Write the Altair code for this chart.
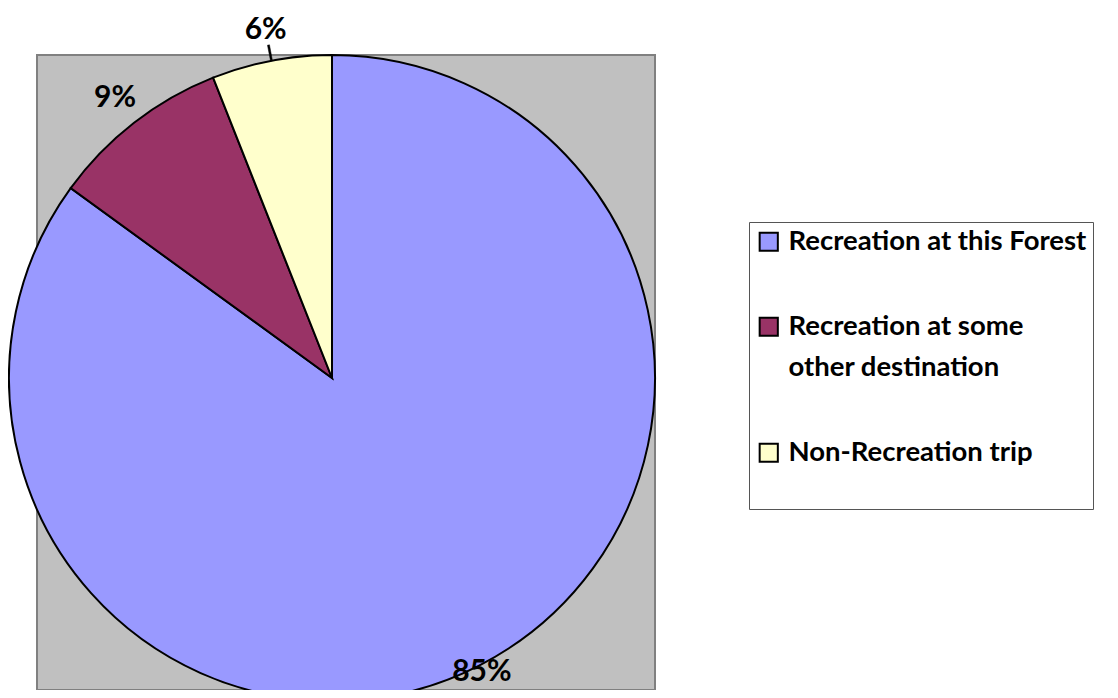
import altair as alt
import pandas as pd

categories = ["Recreation at this Forest", "Recreation at some other destination", "Non-Recreation trip"]
values = [85, 9, 6]
labels = ["85%", "9%", "6%"]
colors = ["#9999FF", "#993366", "#FFFFCC"]
order = [0, 1, 2]

df = pd.DataFrame({"category": categories, "value": values, "label": labels, "order": order})

FONT = "Lato"
CX, CY, R = 295, 323, 323

color_scale = alt.Scale(domain=categories, range=colors)

pie = alt.Chart(df).mark_arc(stroke="black", strokeWidth=2, radius=R, x=CX, y=CY).encode(
    theta=alt.Theta("value:Q", stack=True),
    order=alt.Order("order:Q"),
    color=alt.Color(
        "category:N",
        scale=color_scale,
        legend=alt.Legend(
            title=" ",
            titleOrient="bottom",
            titleFontSize=10,
            titlePadding=27,
            orient="none",
            legendX=712,
            legendY=167,
            symbolType="square",
            symbolSize=330,
            symbolStrokeColor="black",
            symbolStrokeWidth=2,
            labelFont=FONT,
            labelFontSize=27.5,
            labelFontWeight="bold",
            labelColor="black",
            labelLimit=600,
            labelOffset=6,
            labelExpr="datum.label == 'Recreation at some other destination' ? ['Recreation at some', 'other destination'] : datum.label",
            rowPadding=56,
            fillColor="white",
            strokeColor="#555555",
            padding=6,
        ),
    ),
)

mids = (
    alt.Chart(df)
    .transform_window(cum="sum(value)", sort=[alt.SortField("order")], frame=[None, 0])
    .transform_joinaggregate(total="sum(value)")
    .transform_calculate(mid="2*PI*(datum.cum - datum.value/2)/datum.total")
    .transform_calculate(t1="datum.mid - 0.003", t2="datum.mid + 0.003")
)

big_label = mids.transform_filter(alt.datum.value > 50).mark_text(
    radius=330, x=CX, y=CY, font=FONT, fontSize=30, fontWeight="bold", color="black"
).encode(theta=alt.Theta("mid:Q", scale=None, stack=False), text="label:N")

small_labels = mids.transform_filter(alt.datum.value < 50).mark_text(
    radius=354, x=CX, y=CY, font=FONT, fontSize=30, fontWeight="bold", color="black"
).encode(theta=alt.Theta("mid:Q", scale=None, stack=False), text="label:N")

leader = mids.transform_filter(alt.datum.value < 8).mark_arc(
    radius=339, radius2=R, x=CX, y=CY, color="black", stroke="black", strokeWidth=0.5
).encode(theta=alt.Theta("t1:Q", scale=None, stack=False), theta2="t2:Q")

chart = (
    alt.layer(pie, leader, big_label, small_labels)
    .properties(
        width=618,
        height=635,
        autosize=alt.AutoSizeParams(type="none"),
        padding={"left": 29, "top": 47, "right": 455, "bottom": 0},
        view=alt.ViewBackground(fill="#C0C0C0", stroke="#808080", strokeWidth=2),
    )
    .configure(style={"guide-label": {"lineHeight": 41}})
)

chart.save("out.html", embed_options={"renderer": "svg", "actions": False})
